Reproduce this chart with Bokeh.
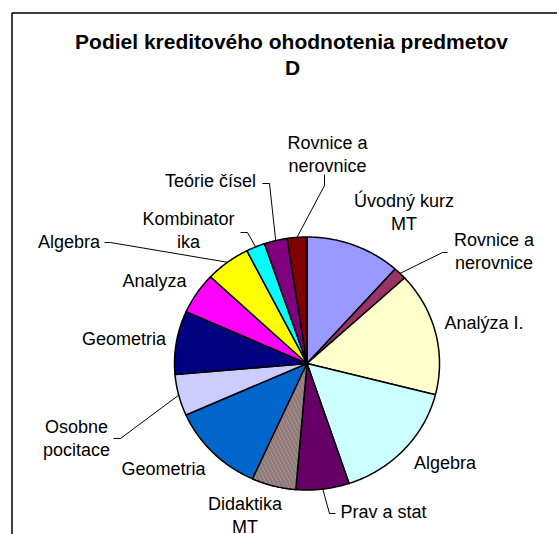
import numpy as np
from bokeh.plotting import figure
from bokeh.models import Range1d, ColumnDataSource
from bokeh.core.properties import value
from bokeh.embed import file_html
from bokeh.resources import INLINE

# ---------------- data ----------------
title_lines = ["Podiel kreditového ohodnotenia predmetov", "D"]
categories = ["Úvodný kurz\nMT", "Rovnice a\nnerovnice", "Analýza I.", "Algebra",
              "Prav a stat", "Didaktika\nMT", "Geometria", "Osobne\npocitace",
              "Geometria", "Analyza", "Algebra", "Kombinator\nika",
              "Teórie čísel", "Rovnice a\nnerovnice"]
shares = [11.6, 1.6, 15.8, 15.9, 6.5, 5.4, 11.6, 5.3, 8.1, 5.3, 5.5, 2.3, 2.8, 2.4]
colors = ["#9999FF", "#993366", "#FFFFCC", "#CCFFFF", "#660066", "#FF8080",
          "#0066CC", "#CCCCFF", "#000080", "#FF00FF", "#FFFF00", "#00FFFF",
          "#800080", "#800000"]
hatched = [5]

# ---------------- layout (pixel space) ----------------
W, H = 557, 534
cx, cy, rx, ry = 306.5, 363.0, 132.5, 126.5
label_pos = [(403.5, 200.5), (493.5, 239.5), (483.5, 322.5), (444.5, 462.5),
             (383, 511.5), (244.5, 503.5), (163, 468.5), (76, 426.5),
             (123.5, 338.5), (154, 280.5), (68.5, 241.5), (188, 218.5),
             (210, 180.5), (327, 142.5)]
line_gap = 22.5
# leader: slice index, elbow, end
leaders = [(13, (324, 185), (324, 174)),
           (12, (269, 183), (262, 183)),
           (11, (247, 232), (240, 232)),
           (10, (110, 242), (104, 242)),
           (7, (120, 438), (113, 438)),
           (4, (329, 513), (335, 513)),
           (1, (442, 252), (447, 252))]

p = figure(width=W, height=H, output_backend="svg", toolbar_location=None,
           x_range=Range1d(0, W), y_range=Range1d(H, 0),
           min_border=0, background_fill_color="white", border_fill_color="white")
p.xaxis.visible = False
p.yaxis.visible = False
p.grid.visible = False
p.outline_line_color = None

# frame
p.quad(left=11.5, right=700, top=12.5, bottom=700, fill_alpha=0,
       line_color="#000000", line_width=1.5)

# pie slices
vals = np.array(shares, dtype=float)
frac = vals / vals.sum()
cum = np.concatenate([[0], np.cumsum(frac)])
starts = 90 - cum[:-1] * 360
ends = 90 - cum[1:] * 360
xs, ys = [], []
mids = []
for s, e in zip(starts, ends):
    n = max(int(abs(s - e) * 2), 4)
    th = np.radians(np.linspace(s, e, n))
    xs.append(np.concatenate([[cx], cx + rx * np.cos(th)]).tolist())
    ys.append(np.concatenate([[cy], cy - ry * np.sin(th)]).tolist())
    mids.append(np.radians((s + e) / 2))

src = ColumnDataSource(dict(xs=xs, ys=ys, color=colors))
p.patches("xs", "ys", source=src, fill_color="color", line_color="black",
          line_width=1.5, line_join="round")
for i in hatched:
    p.patch(xs[i], ys[i], fill_color=colors[i], hatch_pattern="\\",
            hatch_color="#808080", hatch_scale=8, hatch_weight=3,
            line_color="black", line_width=1.5)

# leaders
for idx, elbow, end in leaders:
    sx = cx + rx * np.cos(mids[idx])
    sy = cy - ry * np.sin(mids[idx])
    p.line([sx, elbow[0], end[0]], [sy, elbow[1], end[1]],
           line_color="black", line_width=1)

# labels
tx, ty, tt = [], [], []
for cat, (lx, ly) in zip(categories, label_pos):
    for k, part in enumerate(cat.split("\n")):
        tx.append(lx)
        ty.append(ly + k * line_gap)
        tt.append(part)
p.text(tx, ty, text=tt, text_font=value("Liberation Sans"), text_font_size="18px",
       text_align="center", text_baseline="alphabetic", text_color="black")

# title
p.text([291, 292], [41, 67], text=title_lines, text_font=value("Liberation Sans"),
       text_font_size="21px", text_font_style="bold", text_align="center",
       text_baseline="alphabetic", text_color="black")

open("out.html", "w").write(file_html(p, INLINE))
